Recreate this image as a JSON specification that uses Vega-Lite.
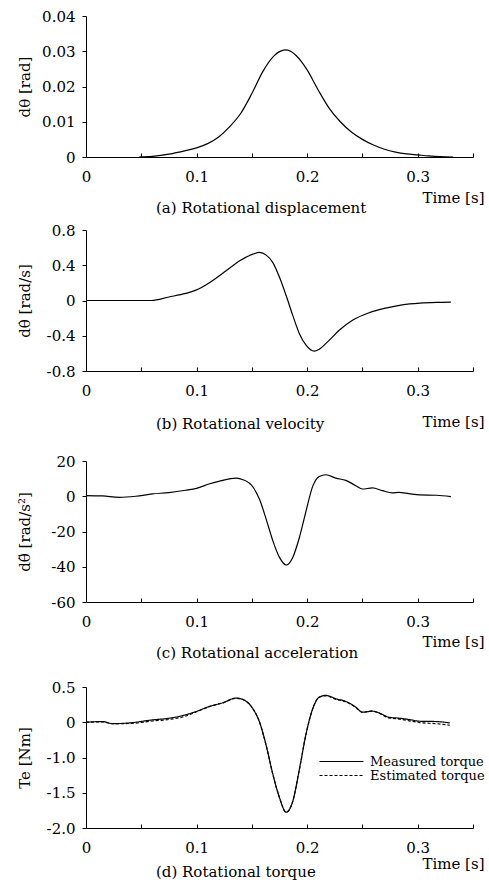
{
  "$schema": "https://vega.github.io/schema/vega-lite/v6.json",
  "padding": {"left": 17, "top": 9, "right": 0, "bottom": 0},
  "background": "white",
  "config": {
    "font": "DejaVu Serif",
    "view": {"stroke": null},
    "axis": {
      "domainColor": "black", "tickColor": "black", "labelColor": "black", "titleColor": "black",
      "labelFont": "DejaVu Serif", "labelFontSize": 15, "titleFont": "DejaVu Serif", "titleFontSize": 15,
      "titleFontWeight": "normal", "grid": false, "labelFlush": false, "labelOverlap": false, "domainWidth": 1, "tickWidth": 1
    },
    "title": {"font": "DejaVu Serif", "fontSize": 15, "fontWeight": "normal", "color": "black"},
    "legend": {"labelFont": "DejaVu Serif", "labelFontSize": 13, "labelColor": "black"}
  },
  "datasets": {
    "a": [
      {"t": 0.048, "v": 0}, {"t": 0.06, "v": 0.0002}, {"t": 0.075, "v": 0.0008}, {"t": 0.09, "v": 0.0018},
      {"t": 0.1, "v": 0.0026}, {"t": 0.11, "v": 0.0038}, {"t": 0.12, "v": 0.0057}, {"t": 0.13, "v": 0.0086},
      {"t": 0.14, "v": 0.0124}, {"t": 0.15, "v": 0.018},
      {"t": 0.16, "v": 0.0243}, {"t": 0.17, "v": 0.0287},
      {"t": 0.175, "v": 0.0299}, {"t": 0.18, "v": 0.0304}, {"t": 0.185, "v": 0.03}, {"t": 0.19, "v": 0.0288},
      {"t": 0.195, "v": 0.027}, {"t": 0.2, "v": 0.0247}, {"t": 0.21, "v": 0.019},
      {"t": 0.22, "v": 0.0138}, {"t": 0.23, "v": 0.0100}, {"t": 0.24, "v": 0.0071},
      {"t": 0.25, "v": 0.005}, {"t": 0.26, "v": 0.0034}, {"t": 0.27, "v": 0.0022}, {"t": 0.28, "v": 0.0014},
      {"t": 0.29, "v": 0.0009}, {"t": 0.3, "v": 0.0006}, {"t": 0.31, "v": 0.0003}, {"t": 0.32, "v": 0.0001},
      {"t": 0.332, "v": 0}
    ],
    "b": [
      {"t": 0, "v": 0}, {"t": 0.059, "v": 0}, {"t": 0.075, "v": 0.04}, {"t": 0.09, "v": 0.08},
      {"t": 0.1, "v": 0.12}, {"t": 0.112, "v": 0.205}, {"t": 0.127, "v": 0.34}, {"t": 0.139, "v": 0.45},
      {"t": 0.151, "v": 0.526}, {"t": 0.157, "v": 0.545}, {"t": 0.163, "v": 0.515}, {"t": 0.169, "v": 0.43},
      {"t": 0.175, "v": 0.263}, {"t": 0.181, "v": 0.056}, {"t": 0.187, "v": -0.169}, {"t": 0.193, "v": -0.376},
      {"t": 0.199, "v": -0.507}, {"t": 0.2066, "v": -0.575}, {"t": 0.211, "v": -0.552}, {"t": 0.22, "v": -0.45},
      {"t": 0.229, "v": -0.338}, {"t": 0.241, "v": -0.225}, {"t": 0.256, "v": -0.139}, {"t": 0.271, "v": -0.086},
      {"t": 0.286, "v": -0.049}, {"t": 0.302, "v": -0.03}, {"t": 0.317, "v": -0.022}, {"t": 0.33, "v": -0.019}
    ],
    "c": [
      {"t": 0, "v": 0.4}, {"t": 0.015, "v": 0.2}, {"t": 0.03, "v": -0.6}, {"t": 0.045, "v": 0},
      {"t": 0.06, "v": 1.3}, {"t": 0.075, "v": 2.1}, {"t": 0.09, "v": 3.4}, {"t": 0.1, "v": 4.5},
      {"t": 0.112, "v": 7.1}, {"t": 0.12, "v": 8.4}, {"t": 0.136, "v": 10.3}, {"t": 0.142, "v": 9.4},
      {"t": 0.151, "v": 5.25}, {"t": 0.157, "v": -1.9}, {"t": 0.163, "v": -13.1}, {"t": 0.169, "v": -25.3},
      {"t": 0.175, "v": -34.7}, {"t": 0.181, "v": -39}, {"t": 0.187, "v": -34.7}, {"t": 0.193, "v": -23.4},
      {"t": 0.199, "v": -8.4}, {"t": 0.205, "v": 5.6}, {"t": 0.211, "v": 11.25}, {"t": 0.217, "v": 12.2},
      {"t": 0.226, "v": 10.3}, {"t": 0.235, "v": 9}, {"t": 0.244, "v": 6}, {"t": 0.25, "v": 4.1},
      {"t": 0.259, "v": 4.7}, {"t": 0.268, "v": 3.2}, {"t": 0.277, "v": 1.9}, {"t": 0.283, "v": 2.25},
      {"t": 0.292, "v": 1.5}, {"t": 0.302, "v": 0.75}, {"t": 0.317, "v": 0.56}, {"t": 0.33, "v": -0.2}
    ],
    "d": [
      {"series": "Measured torque", "t": 0, "v": 0}, {"series": "Measured torque", "t": 0.015, "v": 0.01},
      {"series": "Measured torque", "t": 0.024, "v": -0.02}, {"series": "Measured torque", "t": 0.039, "v": -0.01},
      {"series": "Measured torque", "t": 0.06, "v": 0.033}, {"series": "Measured torque", "t": 0.075, "v": 0.057},
      {"series": "Measured torque", "t": 0.0875, "v": 0.095}, {"series": "Measured torque", "t": 0.0995, "v": 0.152},
      {"series": "Measured torque", "t": 0.1116, "v": 0.224}, {"series": "Measured torque", "t": 0.1237, "v": 0.276},
      {"series": "Measured torque", "t": 0.1357, "v": 0.343}, {"series": "Measured torque", "t": 0.1418, "v": 0.324},
      {"series": "Measured torque", "t": 0.151, "v": 0.19}, {"series": "Measured torque", "t": 0.157, "v": 0},
      {"series": "Measured torque", "t": 0.163, "v": -0.333}, {"series": "Measured torque", "t": 0.169, "v": -0.738},
      {"series": "Measured torque", "t": 0.175, "v": -1.07}, {"series": "Measured torque", "t": 0.181, "v": -1.276},
      {"series": "Measured torque", "t": 0.187, "v": -1.12}, {"series": "Measured torque", "t": 0.193, "v": -0.667},
      {"series": "Measured torque", "t": 0.199, "v": -0.167}, {"series": "Measured torque", "t": 0.205, "v": 0.19},
      {"series": "Measured torque", "t": 0.211, "v": 0.357}, {"series": "Measured torque", "t": 0.217, "v": 0.381},
      {"series": "Measured torque", "t": 0.226, "v": 0.333}, {"series": "Measured torque", "t": 0.235, "v": 0.295},
      {"series": "Measured torque", "t": 0.244, "v": 0.214}, {"series": "Measured torque", "t": 0.25, "v": 0.143},
      {"series": "Measured torque", "t": 0.259, "v": 0.157}, {"series": "Measured torque", "t": 0.265, "v": 0.133},
      {"series": "Measured torque", "t": 0.274, "v": 0.071}, {"series": "Measured torque", "t": 0.2835, "v": 0.057},
      {"series": "Measured torque", "t": 0.2925, "v": 0.038}, {"series": "Measured torque", "t": 0.302, "v": 0.014},
      {"series": "Measured torque", "t": 0.317, "v": 0.01}, {"series": "Measured torque", "t": 0.329, "v": -0.01},
      {"series": "Estimated torque", "t": 0, "v": 0}, {"series": "Estimated torque", "t": 0.015, "v": 0.005},
      {"series": "Estimated torque", "t": 0.024, "v": -0.02}, {"series": "Estimated torque", "t": 0.039, "v": -0.018},
      {"series": "Estimated torque", "t": 0.06, "v": 0.018}, {"series": "Estimated torque", "t": 0.075, "v": 0.04},
      {"series": "Estimated torque", "t": 0.0875, "v": 0.075}, {"series": "Estimated torque", "t": 0.0995, "v": 0.145},
      {"series": "Estimated torque", "t": 0.1116, "v": 0.222}, {"series": "Estimated torque", "t": 0.1237, "v": 0.275},
      {"series": "Estimated torque", "t": 0.1357, "v": 0.34}, {"series": "Estimated torque", "t": 0.1418, "v": 0.322},
      {"series": "Estimated torque", "t": 0.151, "v": 0.19}, {"series": "Estimated torque", "t": 0.157, "v": 0},
      {"series": "Estimated torque", "t": 0.163, "v": -0.333}, {"series": "Estimated torque", "t": 0.169, "v": -0.738},
      {"series": "Estimated torque", "t": 0.175, "v": -1.07}, {"series": "Estimated torque", "t": 0.181, "v": -1.276},
      {"series": "Estimated torque", "t": 0.187, "v": -1.12}, {"series": "Estimated torque", "t": 0.193, "v": -0.667},
      {"series": "Estimated torque", "t": 0.199, "v": -0.167}, {"series": "Estimated torque", "t": 0.205, "v": 0.19},
      {"series": "Estimated torque", "t": 0.211, "v": 0.355}, {"series": "Estimated torque", "t": 0.217, "v": 0.375},
      {"series": "Estimated torque", "t": 0.226, "v": 0.325}, {"series": "Estimated torque", "t": 0.235, "v": 0.29},
      {"series": "Estimated torque", "t": 0.244, "v": 0.21}, {"series": "Estimated torque", "t": 0.25, "v": 0.14},
      {"series": "Estimated torque", "t": 0.259, "v": 0.16}, {"series": "Estimated torque", "t": 0.265, "v": 0.13},
      {"series": "Estimated torque", "t": 0.274, "v": 0.062}, {"series": "Estimated torque", "t": 0.2835, "v": 0.045},
      {"series": "Estimated torque", "t": 0.2925, "v": 0.02}, {"series": "Estimated torque", "t": 0.302, "v": -0.005},
      {"series": "Estimated torque", "t": 0.317, "v": -0.02}, {"series": "Estimated torque", "t": 0.329, "v": -0.043}
    ]
  },
  "spacing": 22,
  "resolve": {"legend": {"strokeDash": "independent"}},
  "vconcat": [
    {
      "spacing": 7,
      "vconcat": [
        {
          "width": 387, "height": 141,
          "data": {"name": "a"},
          "title": {"text": "(a) Rotational displacement", "orient": "bottom", "frame": "group", "anchor": "start", "dx": 70, "offset": 2.5, "baseline": "middle"},
          "mark": {"type": "line", "color": "black", "strokeWidth": 1.2, "interpolate": "monotone"},
          "encoding": {
            "x": {"field": "t", "type": "quantitative", "scale": {"domain": [0, 0.35], "nice": false},
              "axis": {"values": [0, 0.05, 0.1, 0.15, 0.2, 0.25, 0.3, 0.35], "labelExpr": "datum.value == 0 ? '0' : (datum.value == 0.1 || datum.value == 0.2 || datum.value == 0.3) ? format(datum.value, '.1f') : ''",
                "tickSize": -4, "labelPadding": 16, "title": "Time [s]", "titleX": 398, "titleY": 40, "titleAlign": "right", "titleBaseline": "middle", "titleAnchor": "end"}},
            "y": {"field": "v", "type": "quantitative", "scale": {"domain": [0, 0.04], "nice": false},
              "axis": {"values": [0, 0.01, 0.02, 0.03, 0.04], "labelExpr": "datum.value == 0 ? '0' : format(datum.value, '.2f')",
                "tickSize": 4, "labelPadding": 7, "title": "dθ [rad]", "titleX": -62, "titleBaseline": "middle"}}
          }
        },
        {
          "width": 387, "height": 141,
          "data": {"name": "b"},
          "title": {"text": "(b) Rotational velocity", "orient": "bottom", "frame": "group", "anchor": "start", "dx": 70, "offset": -5.5, "baseline": "middle"},
          "mark": {"type": "line", "color": "black", "strokeWidth": 1.2, "interpolate": "monotone"},
          "encoding": {
            "x": {"field": "t", "type": "quantitative", "scale": {"domain": [0, 0.35], "nice": false},
              "axis": {"values": [0, 0.05, 0.1, 0.15, 0.2, 0.25, 0.3, 0.35], "labelExpr": "datum.value == 0 ? '0' : (datum.value == 0.1 || datum.value == 0.2 || datum.value == 0.3) ? format(datum.value, '.1f') : ''",
                "tickSize": -4, "labelPadding": 16, "title": "Time [s]", "titleX": 398, "titleY": 50, "titleAlign": "right", "titleBaseline": "middle", "titleAnchor": "end"}},
            "y": {"field": "v", "type": "quantitative", "scale": {"domain": [-0.8, 0.8], "nice": false},
              "axis": {"values": [-0.8, -0.4, 0, 0.4, 0.8], "labelExpr": "datum.value == 0 ? '0' : (datum.value < 0 ? '-' : '') + format(abs(datum.value), '.1f')",
                "tickSize": 4, "labelPadding": 7, "title": "dθ̇ [rad/s]", "titleX": -62, "titleBaseline": "middle"}}
          }
        }
      ]
    },
    {
      "spacing": 19,
      "resolve": {"legend": {"strokeDash": "independent"}},
      "vconcat": [
        {
          "width": 387, "height": 141,
          "data": {"name": "c"},
          "title": {"text": "(c) Rotational acceleration", "orient": "bottom", "frame": "group", "anchor": "start", "dx": 70, "offset": 3.5, "baseline": "middle"},
          "mark": {"type": "line", "color": "black", "strokeWidth": 1.2, "interpolate": "monotone"},
          "encoding": {
            "x": {"field": "t", "type": "quantitative", "scale": {"domain": [0, 0.35], "nice": false},
              "axis": {"values": [0, 0.05, 0.1, 0.15, 0.2, 0.25, 0.3, 0.35], "labelExpr": "datum.value == 0 ? '0' : (datum.value == 0.1 || datum.value == 0.2 || datum.value == 0.3) ? format(datum.value, '.1f') : ''",
                "tickSize": -4, "labelPadding": 16, "title": "Time [s]", "titleX": 398, "titleY": 39, "titleAlign": "right", "titleBaseline": "middle", "titleAnchor": "end"}},
            "y": {"field": "v", "type": "quantitative", "scale": {"domain": [-60, 20], "nice": false},
              "axis": {"values": [-60, -40, -20, 0, 20], "labelExpr": "(datum.value < 0 ? '-' : '') + format(abs(datum.value), 'd')",
                "tickSize": 4, "labelPadding": 7, "title": "dθ̈ [rad/s²]", "titleX": -62, "titleBaseline": "middle"}}
          }
        },
        {
          "width": 387, "height": 141,
          "data": {"name": "d"},
          "title": {"text": "(d) Rotational torque", "orient": "bottom", "frame": "group", "anchor": "start", "dx": 70, "offset": 0, "baseline": "middle"},
          "mark": {"type": "line", "color": "black", "strokeWidth": 1.2, "interpolate": "monotone"},
          "encoding": {
            "x": {"field": "t", "type": "quantitative", "scale": {"domain": [0, 0.35], "nice": false},
              "axis": {"values": [0, 0.05, 0.1, 0.15, 0.2, 0.25, 0.3, 0.35], "labelExpr": "datum.value == 0 ? '0' : (datum.value == 0.1 || datum.value == 0.2 || datum.value == 0.3) ? format(datum.value, '.1f') : ''",
                "tickSize": -4, "labelPadding": 16, "title": "Time [s]", "titleX": 398, "titleY": 35.5, "titleAlign": "right", "titleBaseline": "middle", "titleAnchor": "end"}},
            "y": {"field": "v", "type": "quantitative", "scale": {"domain": [-1.5, 0.5], "nice": false},
              "axis": {"values": [-1.5, -1, -0.5, 0, 0.5], "labelExpr": "datum.value == 0.5 ? '0.5' : datum.value == 0 ? '0' : datum.value == -0.5 ? '-1.0' : datum.value == -1 ? '-1.5' : '-2.0'",
                "tickSize": 4, "labelPadding": 7, "title": "Te [Nm]", "titleX": -62, "titleBaseline": "middle"}},
            "strokeDash": {"field": "series", "type": "nominal",
              "scale": {"domain": ["Measured torque", "Estimated torque"], "range": [[1, 0], [3, 2]]},
              "legend": {"title": null, "orient": "none", "legendX": 249, "legendY": 68, "padding": 0,
                "symbolType": "M-4,0H4", "symbolSize": 121, "symbolStrokeColor": "black", "symbolStrokeWidth": 1.2, "symbolFillColor": "transparent",
                "labelOffset": 22, "rowPadding": 0, "labelFontSize": 13}}
          }
        }
      ]
    }
  ]
}
